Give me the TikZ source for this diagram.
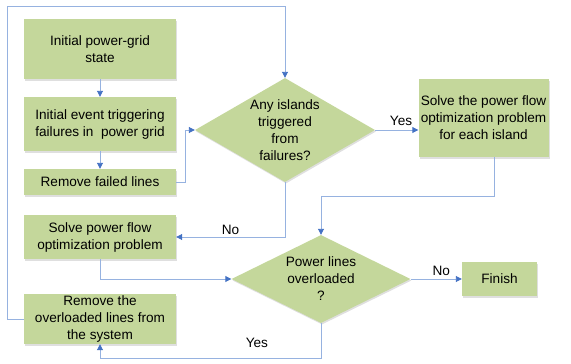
\documentclass[tikz,border=0pt]{standalone}
\usepackage{fontspec}
\setmainfont{Liberation Sans}
\usetikzlibrary{shapes.geometric,arrows.meta,shadows}
\definecolor{boxfill}{RGB}{196,215,155}
\definecolor{lineblue}{RGB}{150,178,224}
\definecolor{tipblue}{RGB}{68,114,196}
\begin{document}
\begin{tikzpicture}[x=1pt,y=-1pt,
  every node/.style={font=\fontsize{13.6}{17}\selectfont},
  box/.style={rectangle,fill=boxfill,draw=none,align=center,inner sep=0pt,
    drop shadow={shadow xshift=1pt,shadow yshift=-1.5pt,opacity=0.25}},
  dia/.style={diamond,fill=boxfill,draw=none,inner sep=0pt,
    drop shadow={shadow xshift=1pt,shadow yshift=-1.5pt,opacity=0.25}},
  conn/.style={draw=lineblue,line width=0.9pt,-{Triangle[length=6pt,width=6pt,color=tipblue]}},
  lbl/.style={inner sep=0pt}]
\useasboundingbox (0,0) rectangle (571,364);
\node[box,minimum width=152,minimum height=60] (b1) at (100,49) {Initial power-grid\\state};
\node[box,minimum width=152,minimum height=54] (b2) at (100,124) {Initial event triggering\\failures in\ \ power grid};
\node[box,minimum width=152,minimum height=26] (b3) at (100,182) {Remove failed lines};
\node[box,minimum width=152,minimum height=44] (b4) at (100,237) {Solve power flow\\optimization problem};
\node[box,minimum width=152,minimum height=50] (b5) at (100,319) {Remove the\\overloaded lines from\\the system};
\node[dia,minimum width=180,minimum height=104,label={[align=center,inner sep=0pt,font=\fontsize{13.6}{17}\selectfont]center:Any islands\\triggered\\from\\failures?}] (d1) at (285,130) {};
\node[box,minimum width=130,minimum height=78] (b6) at (483.5,118) {Solve the power flow\\optimization problem\\for each island};
\node[dia,minimum width=179,minimum height=88,label={[align=center,inner sep=0pt,font=\fontsize{13.6}{17}\selectfont]center:Power lines\\overloaded\\?}] (d2) at (321,279) {};
\node[box,minimum width=75,minimum height=34] (fin) at (499.5,279) {Finish};
\coordinate (top) at (285,6);

\draw[conn] (b1.south) -- (b2.north);
\draw[conn] (b2.south) -- (b3.north);
\draw[conn] (b3.east) -- ++(9,0) |- (d1.west);
\draw[conn] (d1.east) -- node[lbl,above=4pt,pos=0.6]{Yes} (d1.east -| b6.west);
\draw[conn] ([xshift=10.5]b6.south) -- ++(0,39) -| (d2.north);
\draw[conn] (d1.south) |- node[lbl,pos=0.75,above=2pt]{No} (b4.east);
\draw[conn] (b4.south) |- (d2.west);
\draw[conn] (d2.east) -- node[lbl,above=3pt,pos=0.6]{No} (fin.west);
\draw[conn] (d2.south) -- ++(0,35) -| node[lbl,pos=0.145,above=10pt]{Yes} (b5.south);
\draw[conn] (b5.west) -- ++(-16,0) |- (top) -- (d1.north);
\end{tikzpicture}
\end{document}
